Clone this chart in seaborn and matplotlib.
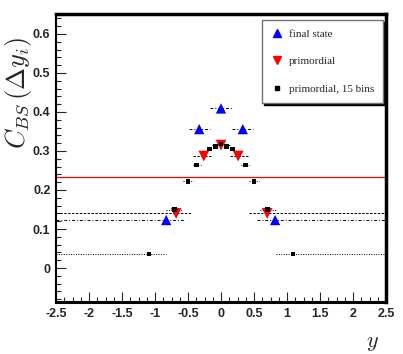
import numpy as np
import pandas as pd
import seaborn as sns
import matplotlib.pyplot as plt
from matplotlib.ticker import MultipleLocator
from matplotlib.lines import Line2D

# final state (5 bins)
final_y = [-0.83, -0.33, 0.0, 0.33, 0.82]
final_c = [0.123, 0.356, 0.409, 0.356, 0.123]
final_lo = [-2.5, -0.48, -0.16, 0.17, 0.55]
final_hi = [-0.55, -0.17, 0.17, 0.48, 2.5]

# primordial (5 bins)
prim_y = [-0.68, -0.26, 0.0, 0.26, 0.70]
prim_c = [0.140, 0.287, 0.315, 0.287, 0.140]
prim_lo = [-2.5, -0.42, -0.13, 0.14, 0.42]
prim_hi = [-0.44, -0.14, 0.13, 0.41, 2.5]

# primordial, 15 bins
p15_y = [-1.09, -0.70, -0.50, -0.37, -0.17, -0.08, 0.0, 0.08, 0.17, 0.37, 0.50, 0.70, 1.09]
p15_c = [0.036, 0.149, 0.222, 0.264, 0.305, 0.311, 0.318, 0.311, 0.305, 0.264, 0.222, 0.149, 0.036]
p15_lo = [-2.5, -0.83, -0.57, -0.43, -0.21, -0.12, -0.04, 0.04, 0.13, 0.30, 0.43, 0.59, 0.84]
p15_hi = [-0.84, -0.59, -0.43, -0.30, -0.13, -0.04, 0.04, 0.12, 0.21, 0.43, 0.57, 0.83, 2.5]

ref_level = 0.234

names = ["final state", "primordial", "primordial, 15 bins"]

df = pd.concat([
    pd.DataFrame({"y": final_y, "c": final_c, "series": names[0]}),
    pd.DataFrame({"y": prim_y, "c": prim_c, "series": names[1]}),
    pd.DataFrame({"y": p15_y, "c": p15_c, "series": names[2]}),
])

sns.set_style("ticks")
plt.rcParams["mathtext.fontset"] = "cm"

fig = plt.figure(figsize=(4.03, 3.54), dpi=100)
ax = fig.add_axes([56 / 403, 1 - 302 / 354, 330 / 403, 288 / 354])

# horizontal bin widths
ax.hlines(final_c, final_lo, final_hi, colors="k", linestyles=(0, (3, 2, 1, 2)), lw=0.7, zorder=2)
ax.hlines(prim_c, prim_lo, prim_hi, colors="k", linestyles=(0, (2.5, 1.5)), lw=0.7, zorder=2)
ax.hlines(p15_c, p15_lo, p15_hi, colors="k", linestyles=(0, (1, 1.5)), lw=0.7, zorder=2)
ax.axhline(ref_level, color="red", lw=0.9, zorder=1)

palette = {names[0]: "blue", names[1]: "red", names[2]: "black"}
markers = {names[0]: "^", names[1]: "v", names[2]: "s"}
sizes = {names[0]: 55, names[1]: 60, names[2]: 12}
sns.scatterplot(data=df, x="y", y="c", hue="series", style="series", size="series",
                palette=palette, markers=markers, sizes=sizes, linewidth=0,
                legend=False, ax=ax, zorder=3)

ax.set_xlim(-2.5, 2.5)
ax.set_ylim(-0.087, 0.651)
ax.set_xlabel("")
ax.set_ylabel("")

ax.xaxis.set_major_locator(MultipleLocator(0.5))
ax.xaxis.set_minor_locator(MultipleLocator(0.125))
ax.yaxis.set_major_locator(MultipleLocator(0.1))
ax.yaxis.set_minor_locator(MultipleLocator(0.02))
ax.set_yticks([0, 0.1, 0.2, 0.3, 0.4, 0.5, 0.6])
ax.set_yticklabels(["0", "0.1", "0.2", "0.3", "0.4", "0.5", "0.6"])
ax.set_xticks([-2.5, -2, -1.5, -1, -0.5, 0, 0.5, 1, 1.5, 2, 2.5])
ax.set_xticklabels(["-2.5", "-2", "-1.5", "-1", "-0.5", "0", "0.5", "1", "1.5", "2", "2.5"])
ax.tick_params(which="both", direction="in", top=False, right=False, width=0.8)
ax.tick_params(which="major", length=7, pad=4)
ax.tick_params(which="minor", length=3.5)
for lab in ax.get_xticklabels() + ax.get_yticklabels():
    lab.set_fontfamily("Liberation Sans")
    lab.set_fontweight("bold")
    lab.set_fontsize(9)

for side, w in [("left", 1.5), ("bottom", 2.2), ("top", 2.5), ("right", 2.5)]:
    ax.spines[side].set_visible(True)
    ax.spines[side].set_linewidth(w)
    ax.spines[side].set_color("black")

fig.text(0.045, 1 - 36 / 354, r"$C_{BS}\,(\Delta y_i)$", rotation=90,
         ha="center", va="top", fontsize=19)
fig.text(372 / 403, 1 - 343 / 354, r"$y$", ha="center", va="center", fontsize=16)

handles = [Line2D([], [], ls="none", marker=markers[n], color=palette[n],
                  markersize=6 if n != names[2] else 3.2) for n in names]
leg = ax.legend(handles, names, loc="upper right", bbox_to_anchor=(0.991, 0.979),
                borderaxespad=0, frameon=True,
                shadow={"color": "black", "alpha": 1.0, "ox": 1.5, "oy": -1.5},
                fancybox=False, labelspacing=1.6,
                handlelength=1.0, handletextpad=0.6, borderpad=0.8,
                prop={"family": "Liberation Serif", "size": 8})
leg.get_frame().set_edgecolor("0.45")
leg.get_frame().set_linewidth(1.0)

fig.savefig("out.png", dpi=100)
